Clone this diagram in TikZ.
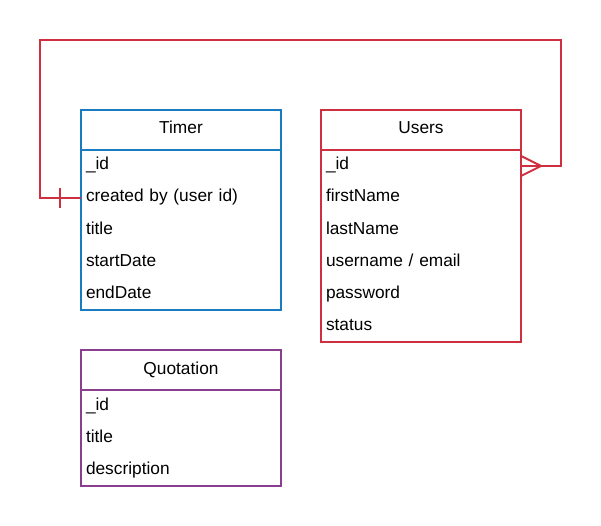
\documentclass[tikz,border=0pt]{standalone}
\usepackage{fontspec}
\setmainfont{Liberation Sans}
\usetikzlibrary{calc}
\definecolor{tblue}{HTML}{1A7BC0}
\definecolor{ured}{HTML}{CF303F}
\definecolor{qpurple}{HTML}{8A3E8E}
\tikzset{
  every node/.style={outer sep=0pt},
  tfont/.style={font=\fontsize{17.3}{20}\selectfont},
  hdr/.style={draw=#1, line width=2pt, minimum width=200pt, minimum height=40pt,
    inner sep=0pt, anchor=north west, tfont, text height=12.4pt, text depth=4.4pt},
  tbody/.style={draw=#1, line width=2pt, minimum width=200pt, anchor=north west, inner sep=0pt},
  field/.style={minimum width=200pt, minimum height=32pt, text width=190pt, align=left,
    inner xsep=5pt, inner ysep=0pt, text height=12.4pt, text depth=4.4pt, anchor=north west, tfont},
  rel/.style={draw=ured, line width=2pt},
}
\begin{document}
\begin{tikzpicture}[x=1pt,y=-1pt]
\useasboundingbox (0,0) rectangle (601,526);
% Timer
\node[tbody=tblue, minimum height=160pt] (timerb) at (81,150) {};
\node[hdr=tblue] (timer) at (81,110) {Timer};
\node[field] (timerid) at (81,150) {\_id};
\node[field] (timerc) at (81,182) {created by (user id)};
\node[field] (timert) at (81,214) {title};
\node[field] (timers) at (81,246) {startDate};
\node[field] (timere) at (81,278) {endDate};
% Users
\node[tbody=ured, minimum height=192pt] (usersb) at (321,150) {};
\node[hdr=ured] (users) at (321,110) {Users};
\node[field] (usersid) at (321,150) {\_id};
\node[field] (usersf) at (321,182) {firstName};
\node[field] (usersl) at (321,214) {lastName};
\node[field] (usersu) at (321,246) {username / email};
\node[field] (usersp) at (321,278) {password};
\node[field] (userss) at (321,310) {status};
% Quotation
\node[tbody=qpurple, minimum height=96pt] (quotb) at (81,390) {};
\node[hdr=qpurple] (quot) at (81,350) {Quotation};
\node[field] (quotid) at (81,390) {\_id};
\node[field] (quott) at (81,422) {title};
\node[field] (quotd) at (81,454) {description};
% relation
\coordinate (lt) at (40,40);
\coordinate (rt) at (561,40);
\draw[rel] (timerc.west) -| (lt) -- (rt) |- (usersid.east);
\draw[rel] ($(timerc.west)+(-21,-10)$) -- ($(timerc.west)+(-21,10)$);
\draw[rel] ($(usersid.east)+(0,-10)$) -- ($(usersid.east)+(20,0)$) -- ($(usersid.east)+(0,10)$);
\end{tikzpicture}
\end{document}
